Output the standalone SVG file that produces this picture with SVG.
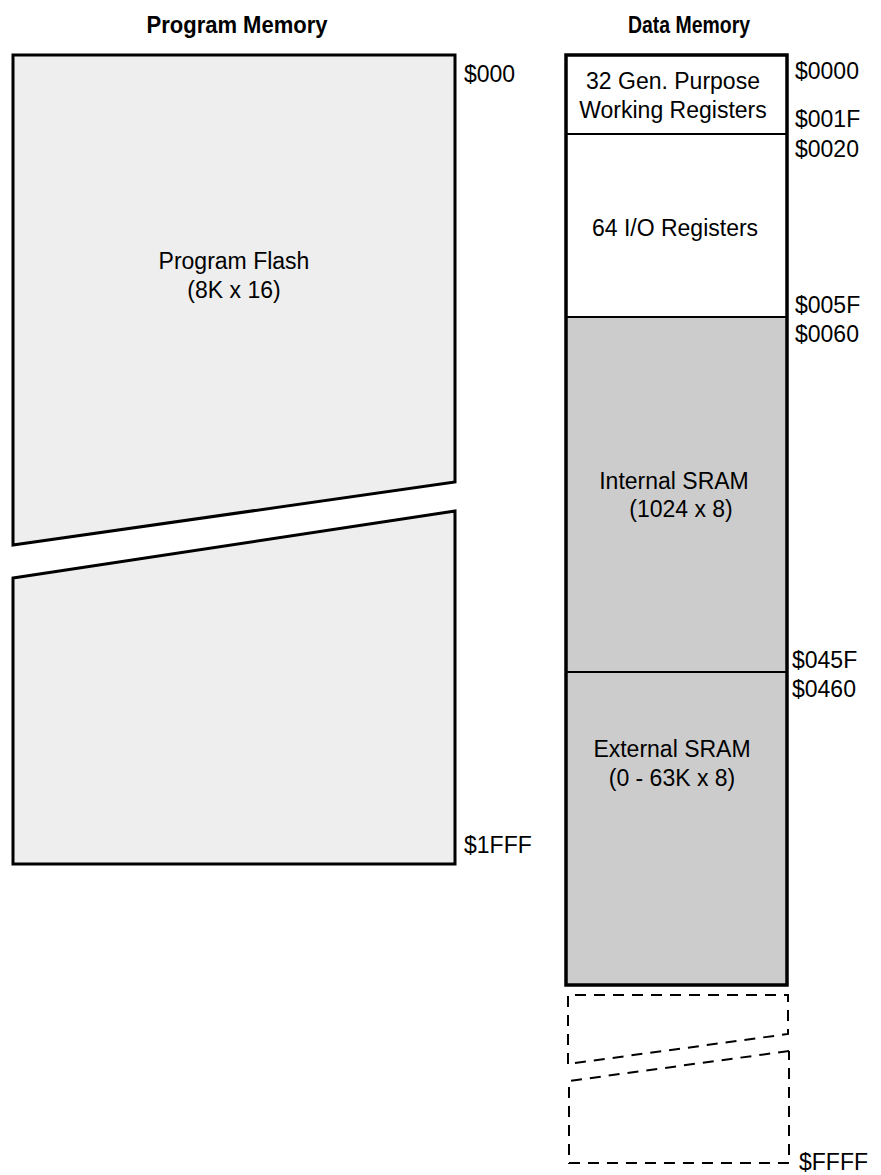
<svg xmlns="http://www.w3.org/2000/svg" width="881" height="1175" viewBox="0 0 881 1175">
<style>
text{font-family:"Liberation Sans",Arial,sans-serif;font-size:23px;fill:#000}
.h{font-weight:bold;font-size:23px}
.m{text-anchor:middle}
.o{stroke:#000;stroke-width:3;stroke-linejoin:miter}
.d{fill:none;stroke:#000;stroke-width:2;stroke-dasharray:11,8}
</style>
<rect width="881" height="1175" fill="#fff"/>
<text class="h m" x="237" y="33" textLength="181" lengthAdjust="spacingAndGlyphs">Program Memory</text>
<text class="h m" x="689" y="33" textLength="122" lengthAdjust="spacingAndGlyphs">Data Memory</text>
<g id="program-flash">
<polygon class="o" fill="#eeeeee" points="13,55 455,55 455,482 13,545"/>
<polygon class="o" fill="#eeeeee" points="13,578 455,511 455,864 13,864"/>
<text class="m" x="234" y="269">Program Flash</text>
<text class="m" x="234" y="298">(8K x 16)</text>
</g>
<g id="gp-registers">
<rect x="566" y="55" width="221" height="79" fill="#fff" stroke="#000" stroke-width="2"/>
<text class="m" x="673" y="89">32 Gen. Purpose</text>
<text class="m" x="673" y="118">Working Registers</text>
</g>
<g id="io-registers">
<rect x="566" y="134" width="221" height="183" fill="#fff" stroke="#000" stroke-width="2"/>
<text class="m" x="675" y="236">64 I/O Registers</text>
</g>
<g id="internal-sram">
<rect x="566" y="317" width="221" height="355" fill="#cccccc" stroke="#000" stroke-width="2"/>
<text class="m" x="674" y="489">Internal SRAM</text>
<text class="m" x="681" y="517">(1024 x 8)</text>
</g>
<g id="external-sram">
<rect x="566" y="672" width="221" height="313" fill="#cccccc" stroke="#000" stroke-width="2"/>
<text class="m" x="672" y="757">External SRAM</text>
<text class="m" x="672" y="786">(0 - 63K x 8)</text>
</g>
<rect x="566" y="55" width="221" height="930" fill="none" stroke="#000" stroke-width="3.5"/>
<g id="unused-space">
<polyline class="d" points="568,1064 568,995 788,995 788,1034 568,1064"/>
<polyline class="d" points="789,1051 569,1081 569,1163 789,1163 789,1051"/>
</g>
<g id="addresses">
<text x="464" y="82">$000</text>
<text x="464" y="853">$1FFF</text>
<text x="795" y="79">$0000</text>
<text x="795" y="127">$001F</text>
<text x="795" y="157">$0020</text>
<text x="795" y="313">$005F</text>
<text x="795" y="342">$0060</text>
<text x="792" y="668">$045F</text>
<text x="792" y="697">$0460</text>
<text x="799" y="1170">$FFFF</text>
</g>
</svg>
